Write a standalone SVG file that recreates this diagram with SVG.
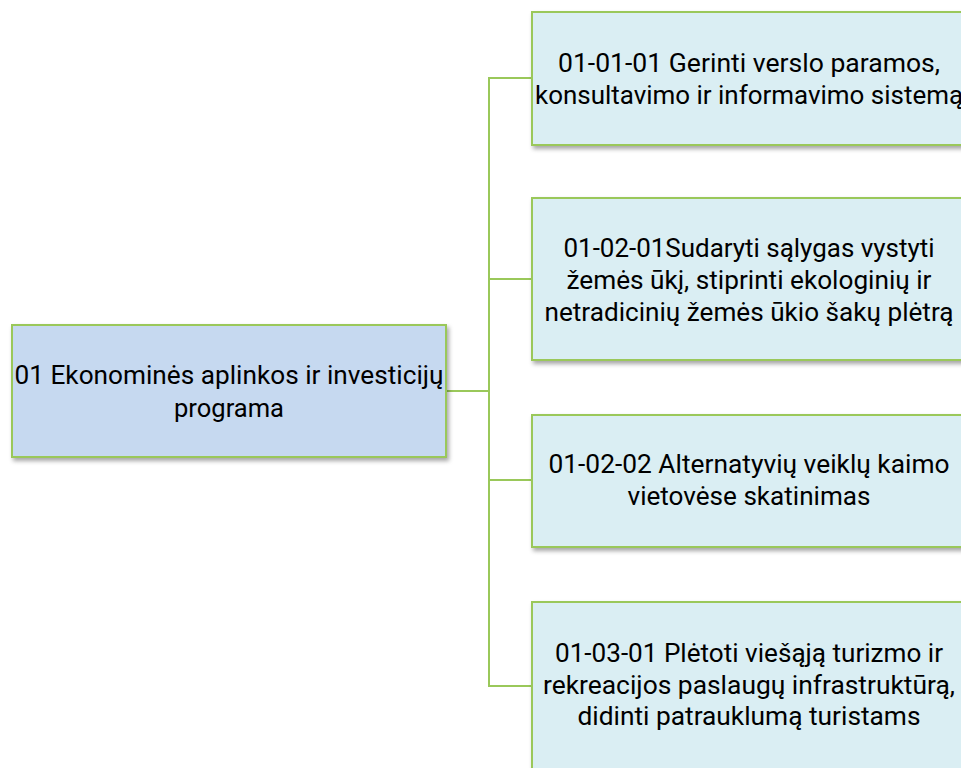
<svg xmlns="http://www.w3.org/2000/svg" width="961" height="768" viewBox="0 0 961 768">
  <style>
    .node { stroke: #9AC85A; stroke-width: 2; filter: url(#shadow); }
    .root { fill: #C6D9F0; }
    .child { fill: #DAEEF3; }
    .lbl { font-family: Roboto, "Noto Sans", "Liberation Sans", sans-serif; font-size: 25px; fill: #000; text-anchor: middle; }
    .conn { fill: none; stroke: #9AC85A; stroke-width: 2; }
  </style>
  <defs>
    <filter id="shadow" x="-10%" y="-10%" width="125%" height="130%">
      <feDropShadow dx="2" dy="3" stdDeviation="2" flood-color="#000" flood-opacity="0.35"/>
    </filter>
  </defs>
  <rect width="961" height="768" fill="#FFFFFF"/>

  <g id="connectors">
    <path class="conn" d="M446,391 H489"/>
    <path class="conn" d="M532,78 H489 V686 H532"/>
    <path class="conn" d="M489,279 H532"/>
    <path class="conn" d="M489,480 H532"/>
  </g>

  <g id="node-01">
    <rect class="node root" x="12" y="325" width="434" height="132"/>
    <text class="lbl" x="229" y="384" textLength="429" lengthAdjust="spacingAndGlyphs">01 Ekonominės aplinkos ir investicijų</text>
    <text class="lbl" x="229" y="416.5" textLength="110" lengthAdjust="spacingAndGlyphs">programa</text>
  </g>

  <g id="node-01-01-01">
    <rect class="node child" x="532" y="12" width="434" height="133"/>
    <text class="lbl" x="749" y="72" textLength="382" lengthAdjust="spacingAndGlyphs">01-01-01 Gerinti verslo paramos,</text>
    <text class="lbl" x="749" y="103.5" textLength="428" lengthAdjust="spacingAndGlyphs">konsultavimo ir informavimo sistemą</text>
  </g>

  <g id="node-01-02-01">
    <rect class="node child" x="532" y="198" width="434" height="162"/>
    <text class="lbl" x="749" y="256.5" textLength="371" lengthAdjust="spacingAndGlyphs">01-02-01Sudaryti sąlygas vystyti</text>
    <text class="lbl" x="749" y="288.5" textLength="365" lengthAdjust="spacingAndGlyphs">žemės ūkį, stiprinti ekologinių ir</text>
    <text class="lbl" x="749" y="321" textLength="409" lengthAdjust="spacingAndGlyphs">netradicinių žemės ūkio šakų plėtrą</text>
  </g>

  <g id="node-01-02-02">
    <rect class="node child" x="532" y="415" width="434" height="132"/>
    <text class="lbl" x="749" y="473" textLength="401" lengthAdjust="spacingAndGlyphs">01-02-02 Alternatyvių veiklų kaimo</text>
    <text class="lbl" x="749" y="505" textLength="243" lengthAdjust="spacingAndGlyphs">vietovėse skatinimas</text>
  </g>

  <g id="node-01-03-01">
    <rect class="node child" x="532" y="602" width="434" height="168"/>
    <text class="lbl" x="749" y="662" textLength="388" lengthAdjust="spacingAndGlyphs">01-03-01 Plėtoti viešąją turizmo ir</text>
    <text class="lbl" x="749" y="693.5" textLength="412" lengthAdjust="spacingAndGlyphs">rekreacijos paslaugų infrastruktūrą,</text>
    <text class="lbl" x="749" y="725" textLength="343" lengthAdjust="spacingAndGlyphs">didinti patrauklumą turistams</text>
  </g>
</svg>
